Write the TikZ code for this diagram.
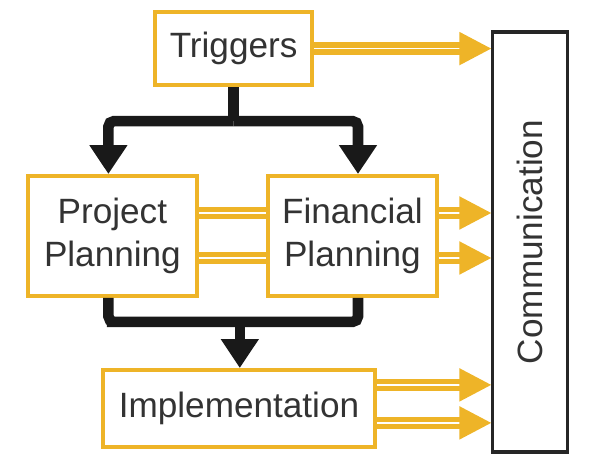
\documentclass[tikz,border=0pt]{standalone}
\usepackage{fontspec}
\setmainfont{Liberation Sans}
\usetikzlibrary{positioning,arrows.meta,calc}
\definecolor{gold}{RGB}{238,180,40}
\definecolor{ink}{RGB}{51,51,51}

\begin{document}
\begin{tikzpicture}[
    font=\fontsize{25}{30}\selectfont,
    text=ink,
    phase/.style={
        draw=gold, line width=2.8pt,
        align=center,
        inner sep=0pt,
        fill=white
    },
    flow/.style={
        draw=black!90, line width=7.5pt,
        rounded corners=4pt
    },
    flowarrow/.style={
        flow, -{Triangle[length=0.72cm,width=0.9cm]}
    },
    link/.style={
        draw=gold, line width=3.8pt,
        double=white, double distance=1.2pt
    },
    linkarrow/.style={
        link, -{Triangle[length=0.8cm,width=0.8cm]}
    }
]
\useasboundingbox (0,0) rectangle (15.075,11.525);

% Phases
\node[phase, minimum width=3.925cm, minimum height=1.825cm] (trig) at (5.84,10.31) {Triggers};
\node[phase, minimum width=4.225cm, minimum height=3cm] (pp) at (2.81,5.625) {Project\\Planning};
\node[phase, minimum width=4.225cm, minimum height=3cm] (fp) at (8.81,5.625) {Financial\\Planning};
\node[phase, minimum width=6.8cm, minimum height=1.925cm] (impl) at (5.975,1.3125) {Implementation};

% Communication bar
\node[draw=black!85, line width=2.2pt, minimum width=1.875cm, minimum height=10.5cm] (comm) at (13.26,5.475) {};
\node[rotate=90] (commtext) at (comm.center) {Communication};

% Black flow
\path (trig.south) -- ++(0,-0.85) coordinate (split);
\draw[flow] (trig.south) -- (split);
\draw[flowarrow] (split) -| ([xshift=-0.1cm]pp.north);
\draw[flowarrow] (split) -| ([xshift=0.14cm]fp.north);
\path (pp.south) -- ++(0,-0.6) coordinate (lowbar);
\draw[flow] ([xshift=-0.1cm]pp.south) |- (lowbar) -| ([xshift=0.14cm]fp.south);
\draw[flowarrow] ($(impl.north |- lowbar)+(0.02,0)$) -- ([xshift=0.02cm]impl.north);

% Yellow links
\coordinate (ppa) at ([yshift=0.575cm]pp.east);
\coordinate (ppb) at ([yshift=-0.55cm]pp.east);
\coordinate (fpa) at ([yshift=0.575cm]fp.east);
\coordinate (fpb) at ([yshift=-0.55cm]fp.east);
\coordinate (impla) at ([yshift=0.59cm]impl.east);
\coordinate (implb) at ([yshift=-0.36cm]impl.east);

\draw[linkarrow] (trig.east) -- (comm.west |- trig.east);
\draw[link] (ppa) -- (fp.west |- ppa);
\draw[link] (ppb) -- (fp.west |- ppb);
\draw[linkarrow] (fpa) -- (comm.west |- fpa);
\draw[linkarrow] (fpb) -- (comm.west |- fpb);
\draw[linkarrow] (impla) -- (comm.west |- impla);
\draw[linkarrow] (implb) -- (comm.west |- implb);

\end{tikzpicture}
\end{document}
